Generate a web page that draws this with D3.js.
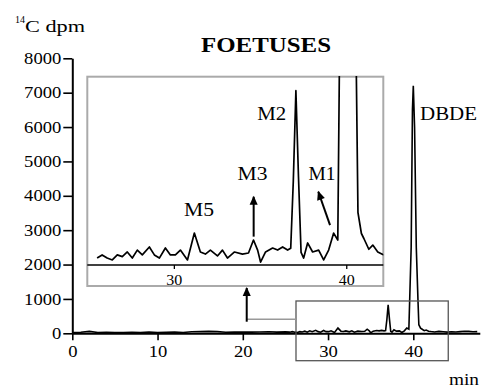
<!DOCTYPE html>
<html><head><meta charset="utf-8">
<script src="https://cdn.jsdelivr.net/npm/d3@7/dist/d3.min.js"></script>
<style>
html,body{margin:0;padding:0;background:#fff;}
svg{display:block;}
svg text{font-family:'Liberation Serif','DejaVu Serif','Times New Roman',Times,serif !important;}
</style></head>
<body>
<svg id="c" width="481" height="387"></svg>
<script>
// ---- data ----
const times = [0,1,2,3,4,5,6,7,8,9,10,11,12,13,14,15,16,17,18,19,20,21,22,23,24,25,
  25.52,25.81,26.10,26.40,26.69,26.98,27.27,27.56,27.85,28.14,28.55,28.84,29.13,29.48,29.77,30.06,30.35,30.76,
  31.16,31.51,31.80,32.09,32.50,32.79,33.08,33.49,33.95,34.30,34.59,34.83,35.00,35.29,35.70,35.99,36.28,36.57,
  36.75,36.90,37.05,37.20,37.35,37.50,37.73,38.02,38.37,38.66,38.95,39.24,39.48,39.75,39.90,40.00,40.15,40.35,
  40.55,40.65,40.85,41.00,41.28,41.51,41.80,42.09,42.5,43,43.5,44,44.5,45,45.5,46,46.5,47,47.5,47.8];
const dpm = [20,30,55,25,30,25,20,30,25,35,20,30,35,25,45,50,55,50,30,35,35,35,40,45,35,40,
  33,48,33,24,48,40,62,33,71,48,86,48,33,81,48,48,71,24,
  152,62,52,71,43,71,33,62,52,57,119,71,14,62,81,71,86,71,
  80,400,830,420,60,33,105,62,71,24,71,152,119,2500,6500,7200,6000,2500,
  950,250,150,125,75,95,62,50,40,55,45,35,45,40,50,60,55,45,50];
const yTicks = [0,1000,2000,3000,4000,5000,6000,7000,8000];
const xTicks = [0,10,20,30,40];
const insetTicks = [30,40];
const insetStart = 25.5;
const insetLabels = [
  {text:"M5", t:31.43, v:232, w:30},
  {text:"M3", t:34.54, v:405, w:30},
  {text:"M2", t:35.65, v:690, w:29},
  {text:"M1", t:38.57, v:405, w:27}
];
const insetArrows = [
  {t0:34.60, v0:135, t1:34.60, v1:325},
  {t0:39.03, v0:190, t1:38.35, v1:349}
];
const peakLabel = {text:"DBDE", t:40.79, v:6205, w:57};
const zoomBox = {t0:26.24, t1:44.1, v0:-797, v1:940};
const connector = {t:20.46, v:407, vTip:1318, vBase:337};

// ---- layout ----
const FONT = "'Liberation Serif','DejaVu Serif','Times New Roman',Times,serif";
const svg = d3.select("#c").attr("font-family",FONT);
const x = d3.scaleLinear().domain([0,47.8]).range([72.3, 72.3+47.8*8.525]);
const y = d3.scaleLinear().domain([0,8000]).range([333.3,58.3]);
const xi = d3.scaleLinear().domain([24.95,42.12]).range([87.3,383.3]);
const yi = d3.scaleLinear().domain([0,900]).range([265,76]);
const fit = (sel,w)=>sel.attr("textLength",w).attr("lengthAdjust","spacingAndGlyphs");

const defs = svg.append("defs");
defs.append("marker").attr("id","ah").attr("viewBox","0 -5 10 10")
  .attr("refX",9).attr("refY",0).attr("markerWidth",10).attr("markerHeight",9)
  .attr("markerUnits","userSpaceOnUse").attr("orient","auto")
  .append("path").attr("d","M0,-4.5L10,0L0,4.5Z").attr("fill","#000");
defs.append("clipPath").attr("id","ic").append("rect")
  .attr("x",87.3).attr("y",76).attr("width",296).attr("height",210);

const pts = times.map((t,i)=>[t,dpm[i]]);

// title & axis labels
fit(svg.append("text").attr("x",266).attr("y",52).attr("text-anchor","middle")
  .attr("font-size",20).attr("font-weight","bold").text("FOETUSES"),130);
svg.append("text").attr("x",15).attr("y",23).attr("font-size",10).text("14");
fit(svg.append("text").attr("x",25).attr("y",32).attr("font-size",17).text("C dpm"),60);
fit(svg.append("text").attr("x",449).attr("y",385).attr("font-size",16).text("min"),30);

// main axes
const gy = svg.append("g").attr("transform",`translate(${x(0)},0)`)
  .call(d3.axisLeft(y).tickValues(yTicks).tickSize(9).tickSizeOuter(0).tickPadding(2).tickFormat(d3.format("d")));
const gx = svg.append("g").attr("transform",`translate(0,${y(0)})`)
  .call(d3.axisBottom(x).tickValues(xTicks).tickSize(7).tickSizeOuter(0).tickPadding(5));
[gx,gy].forEach(g=>{
  g.attr("font-family",FONT);
  g.select(".domain").attr("stroke","#000").attr("stroke-width",2);
  g.selectAll(".tick line").attr("stroke","#000").attr("stroke-width",1.6);
  g.selectAll(".tick text").attr("font-size",16).attr("fill","#000")
    .each(function(d){fit(d3.select(this),String(d).length*9.3);});
});

// main trace
svg.append("path").datum(pts).attr("fill","none").attr("stroke","#000").attr("stroke-width",1.6)
  .attr("d",d3.line().x(d=>x(d[0])).y(d=>y(d[1])));

// zoom box in main & connector
svg.append("rect").attr("x",x(zoomBox.t0)).attr("y",y(zoomBox.v1))
  .attr("width",x(zoomBox.t1)-x(zoomBox.t0)).attr("height",y(zoomBox.v0)-y(zoomBox.v1))
  .attr("fill","none").attr("stroke","#555").attr("stroke-width",1.3);
svg.append("line").attr("x1",x(zoomBox.t0)).attr("x2",x(connector.t)).attr("y1",y(connector.v)).attr("y2",y(connector.v))
  .attr("stroke","#999").attr("stroke-width",1.5);
svg.append("line").attr("x1",x(connector.t)).attr("x2",x(connector.t)).attr("y1",y(connector.vBase)).attr("y2",y(connector.vTip))
  .attr("stroke","#000").attr("stroke-width",2).attr("marker-end","url(#ah)");

fit(svg.append("text").attr("x",x(peakLabel.t)).attr("y",y(peakLabel.v))
  .attr("font-size",18).text(peakLabel.text),peakLabel.w);

// inset
const ig = svg.append("g");
ig.append("rect").attr("x",87.3).attr("y",76.7).attr("width",296).attr("height",209.3)
  .attr("fill","#fff").attr("stroke","#aaa").attr("stroke-width",2);
ig.append("line").attr("x1",87.3).attr("x2",383.3).attr("y1",yi(0)).attr("y2",yi(0))
  .attr("stroke","#000").attr("stroke-width",1.6);
insetTicks.forEach(t=>{
  ig.append("line").attr("x1",xi(t)).attr("x2",xi(t)).attr("y1",yi(0)).attr("y2",yi(0)+4).attr("stroke","#000").attr("stroke-width",1.3);
  fit(ig.append("text").attr("x",xi(t)).attr("y",285).attr("text-anchor","middle")
    .attr("font-size",14).text(t),16);
});
ig.append("path").datum(pts.filter(d=>d[0]>=insetStart)).attr("clip-path","url(#ic)")
  .attr("fill","none").attr("stroke","#000").attr("stroke-width",1.7).attr("stroke-linejoin","round")
  .attr("d",d3.line().x(d=>xi(d[0])).y(d=>yi(d[1])));
insetLabels.forEach(l=>{
  fit(ig.append("text").attr("x",xi(l.t)).attr("y",yi(l.v))
    .attr("text-anchor","middle").attr("font-size",18).text(l.text),l.w);
});
insetArrows.forEach(a=>{
  ig.append("line").attr("x1",xi(a.t0)).attr("y1",yi(a.v0)).attr("x2",xi(a.t1)).attr("y2",yi(a.v1))
    .attr("stroke","#000").attr("stroke-width",2).attr("marker-end","url(#ah)");
});
</script>
</body></html>
